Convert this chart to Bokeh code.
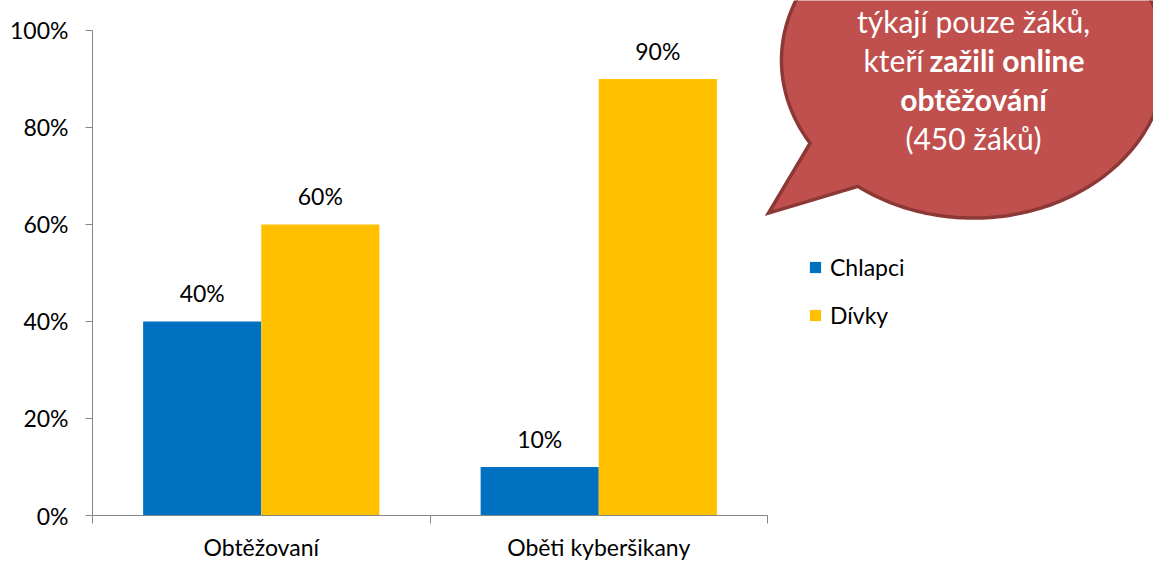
import numpy as np
from bokeh.plotting import figure
from bokeh.models import (ColumnDataSource, FixedTicker, NumeralTickFormatter,
                          Legend, LegendItem, Range1d)
from bokeh.core.properties import value
from bokeh.embed import file_html
from bokeh.resources import INLINE

# ---------------- data ----------------
categories = ["Obtěžovaní", "Oběti kyberšikany"]
series_names = ["Chlapci", "Dívky"]
chlapci = [0.40, 0.10]
divky = [0.60, 0.90]
y_ticks = [0, 0.2, 0.4, 0.6, 0.8, 1.0]
bubble_line1 = "týkají pouze žáků,"
bubble_line2_normal = "kteří"
bubble_line2_bold = "zažili online"
bubble_line3_bold = "obtěžování"
bubble_line4 = "(450 žáků)"

# ---------------- style / geometry ----------------
W, H = 1153, 563
FONT = "Lato"
BLUE = "#0070C0"
YELLOW = "#FFC000"
AXIS = "#868686"
BUBBLE_FILL = "#C0504D"
BUBBLE_LINE = "#8C3836"

LEFT = 92          # frame left (px)
BASE = 516         # y=0 line (px)
PX_PER_CAT = 337.5
PX_PER_UNIT = 486.0

x_end = (W - LEFT) / PX_PER_CAT
y_end = BASE / PX_PER_UNIT


def dx(px):
    return (np.asarray(px, dtype=float) - LEFT) / PX_PER_CAT


def dy(py):
    return (BASE - np.asarray(py, dtype=float)) / PX_PER_UNIT


p = figure(width=W, height=H, x_range=Range1d(0, x_end), y_range=Range1d(0, y_end),
           output_backend="svg", toolbar_location=None,
           min_border_left=LEFT, min_border_right=0, min_border_top=0,
           min_border_bottom=H - BASE)
p.outline_line_color = None
p.grid.visible = False
p.background_fill_color = "white"
p.border_fill_color = "white"

# ---------------- bars ----------------
centers = [i + 0.5 for i in range(len(categories))]
bw = 0.35
src = ColumnDataSource(dict(
    xb=[c - bw / 2 for c in centers],
    xg=[c + bw / 2 for c in centers],
    chl=chlapci, div=divky,
    lc=[f"{round(v * 100)}%" for v in chlapci],
    ld=[f"{round(v * 100)}%" for v in divky],
))
r1 = p.vbar(x="xb", top="chl", width=bw, source=src, fill_color=BLUE, line_color=None)
r2 = p.vbar(x="xg", top="div", width=bw, source=src, fill_color=YELLOW, line_color=None)

for xcol, ycol, tcol in (("xb", "chl", "lc"), ("xg", "div", "ld")):
    p.text(x=xcol, y=ycol, text=tcol, source=src, text_align="center",
           text_baseline="alphabetic", y_offset=-28, text_font=value(FONT),
           text_font_size="23px", text_color="#000000")

# ---------------- axes ----------------
xa = p.xaxis[0]
xa.bounds = (0, len(categories))
xa.ticker = FixedTicker(ticks=centers, minor_ticks=list(range(len(categories) + 1)))
xa.major_label_overrides = {c: cat for c, cat in zip(centers, categories)}
xa.major_tick_out = 0
xa.major_tick_in = 0
xa.minor_tick_out = 8
xa.minor_tick_in = 0
xa.minor_tick_line_color = AXIS
xa.axis_line_color = AXIS
xa.major_label_standoff = 9
xa.major_label_text_font = FONT
xa.major_label_text_font_size = "23px"
xa.major_label_text_color = "#000000"

ya = p.yaxis[0]
ya.bounds = (0, 1)
ya.ticker = FixedTicker(ticks=y_ticks)
ya.formatter = NumeralTickFormatter(format="0%")
ya.major_tick_out = 7
ya.major_tick_in = 0
ya.minor_tick_line_color = None
ya.axis_line_color = AXIS
ya.major_tick_line_color = AXIS
ya.major_label_standoff = 17
ya.major_label_text_font = FONT
ya.major_label_text_font_size = "23px"
ya.major_label_text_color = "#000000"

# ---------------- legend ----------------
legend = Legend(items=[LegendItem(label=series_names[0], renderers=[r1]),
                       LegendItem(label=series_names[1], renderers=[r2])],
                location=(716, 186), orientation="vertical",
                glyph_width=14, glyph_height=14, label_standoff=8,
                spacing=20, padding=0, margin=0,
                border_line_color=None, background_fill_alpha=0,
                label_text_font=FONT, label_text_font_size="23px",
                label_text_color="#000000")
p.add_layout(legend)

# ---------------- speech bubble ----------------
cx, cy, a, b = 973, 60, 192, 158
t = np.linspace(np.deg2rad(148.3), np.deg2rad(127 + 360), 300)
bx = np.append(cx + a * np.cos(t), 768)
by = np.append(cy + b * np.sin(t), 213)
p.patch(dx(bx), dy(by), fill_color=BUBBLE_FILL, line_color=BUBBLE_LINE,
        line_width=3.5, line_join="miter")

tsize = "30px"
p.text(x=[dx(cx)], y=[dy(21)], text=[bubble_line1], text_align="center",
       text_baseline="alphabetic", text_font=value(FONT), text_font_size=tsize,
       text_color="white")
p.text(x=[dx(923)], y=[dy(60)], text=[bubble_line2_normal], text_align="right",
       text_baseline="alphabetic", text_font=value(FONT), text_font_size=tsize,
       text_color="white")
p.text(x=[dx(929)], y=[dy(60)], text=[bubble_line2_bold], text_align="left",
       text_baseline="alphabetic", text_font=value(FONT), text_font_size=tsize,
       text_font_style="bold", text_color="white")
p.text(x=[dx(cx)], y=[dy(99)], text=[bubble_line3_bold], text_align="center",
       text_baseline="alphabetic", text_font=value(FONT), text_font_size=tsize,
       text_font_style="bold", text_color="white")
p.text(x=[dx(cx)], y=[dy(138)], text=[bubble_line4], text_align="center",
       text_baseline="alphabetic", text_font=value(FONT), text_font_size=tsize,
       text_color="white")

open("out.html", "w").write(file_html(p, INLINE))
